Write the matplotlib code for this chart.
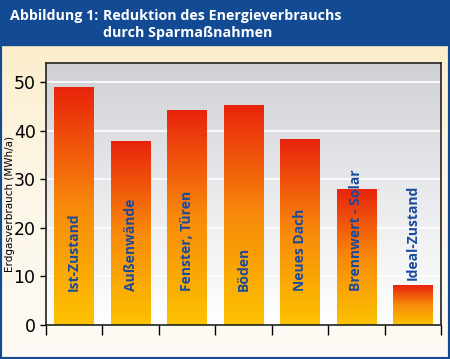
import numpy as np
import matplotlib
matplotlib.use('Agg')
import matplotlib.pyplot as plt
from matplotlib.colors import LinearSegmentedColormap
from matplotlib.patches import Rectangle

categories = ['Ist-Zustand', 'Außenwände', 'Fenster, Türen', 'Böden',
              'Neues Dach', 'Brennwert - Solar', 'Ideal-Zustand']
values = [49.0, 38.0, 44.4, 45.4, 38.3, 28.0, 8.2]
yticks = [0, 10, 20, 30, 40, 50]

BLUE = '#124a93'
LABEL_BLUE = '#1a4b9c'

fig = plt.figure(figsize=(4.5, 3.59), dpi=100)

# page background: cream fading to white, blue header band, blue border
bg = fig.add_axes([0, 0, 1, 1], zorder=-10)
bg.set_xlim(0, 1)
bg.set_ylim(0, 1)
bg.axis('off')
grad = np.linspace(0, 1, 256).reshape(-1, 1)
bg_cmap = LinearSegmentedColormap.from_list('bg', ['#fdfbf6', '#fdf6e6', '#fcecc4'])
bg.imshow(grad, cmap=bg_cmap, extent=[0, 1, 0, 1], aspect='auto', origin='lower')
bg.add_patch(Rectangle((0, 1 - 45 / 359), 1, 45 / 359, color=BLUE))
bg.add_patch(Rectangle((0, 0), 1, 1, fill=False, edgecolor=BLUE, lw=3))

hdr = dict(color='white', fontsize=10.3, fontweight='bold', va='center', family='Open Sans')
fig.text(10 / 450, 1 - 16 / 359, 'Abbildung 1:', **hdr)
fig.text(103 / 450, 1 - 16 / 359, 'Reduktion des Energieverbrauchs', **hdr)
fig.text(103 / 450, 1 - 33 / 359, 'durch Sparmaßnahmen', **hdr)

ax = fig.add_axes([46 / 450, 1 - 325 / 359, 395 / 450, 262 / 359])
ax.set_xlim(0, len(categories))
ax.set_ylim(0, 54)

# plot area gradient: grey on top, white at bottom
ax_cmap = LinearSegmentedColormap.from_list('ax', ['#ffffff', '#e9eaec', '#cfd1d6'])
ax.imshow(grad, cmap=ax_cmap, extent=[0, 1, 0, 1], aspect='auto', origin='lower',
          transform=ax.transAxes, zorder=0)
for y in yticks[1:]:
    ax.axhline(y, color='white', lw=1.2, zorder=1)

bar_cmap = LinearSegmentedColormap.from_list('bar', ['#fcc200', '#f88a0a', '#e8230c'])
x = np.arange(len(categories)) + 0.5
bars = ax.bar(x, values, width=0.7, color='none', zorder=2)
for b, v in zip(bars, values):
    im = ax.imshow(grad, cmap=bar_cmap, aspect='auto', origin='lower',
                   extent=[b.get_x(), b.get_x() + b.get_width(), 0, v], zorder=2)
    im.set_clip_path(b)

for xi, name, v in zip(x, categories, values):
    ax.text(xi, v + 1.0 if v < 10 else 7, name, rotation=90, ha='center',
            va='bottom', color=LABEL_BLUE, fontsize=10, fontweight='bold',
            family='Open Sans', zorder=3)

ax.set_xticks(np.arange(len(categories) + 1))
ax.set_xticklabels([])
ax.tick_params(axis='x', direction='out', length=7, width=1)
ax.set_yticks(yticks)
ax.tick_params(axis='y', direction='out', length=4, width=1, labelsize=12.5)
for lbl in ax.get_yticklabels():
    lbl.set_family('Liberation Sans Narrow')
ax.set_ylabel('Erdgasverbrauch (MWh/a)', fontsize=7.5)
ax.yaxis.set_label_coords(-31 / 395, 0.46)
for s in ax.spines.values():
    s.set_color('#222222')
    s.set_linewidth(1.2)

fig.savefig('out.png', dpi=100)
